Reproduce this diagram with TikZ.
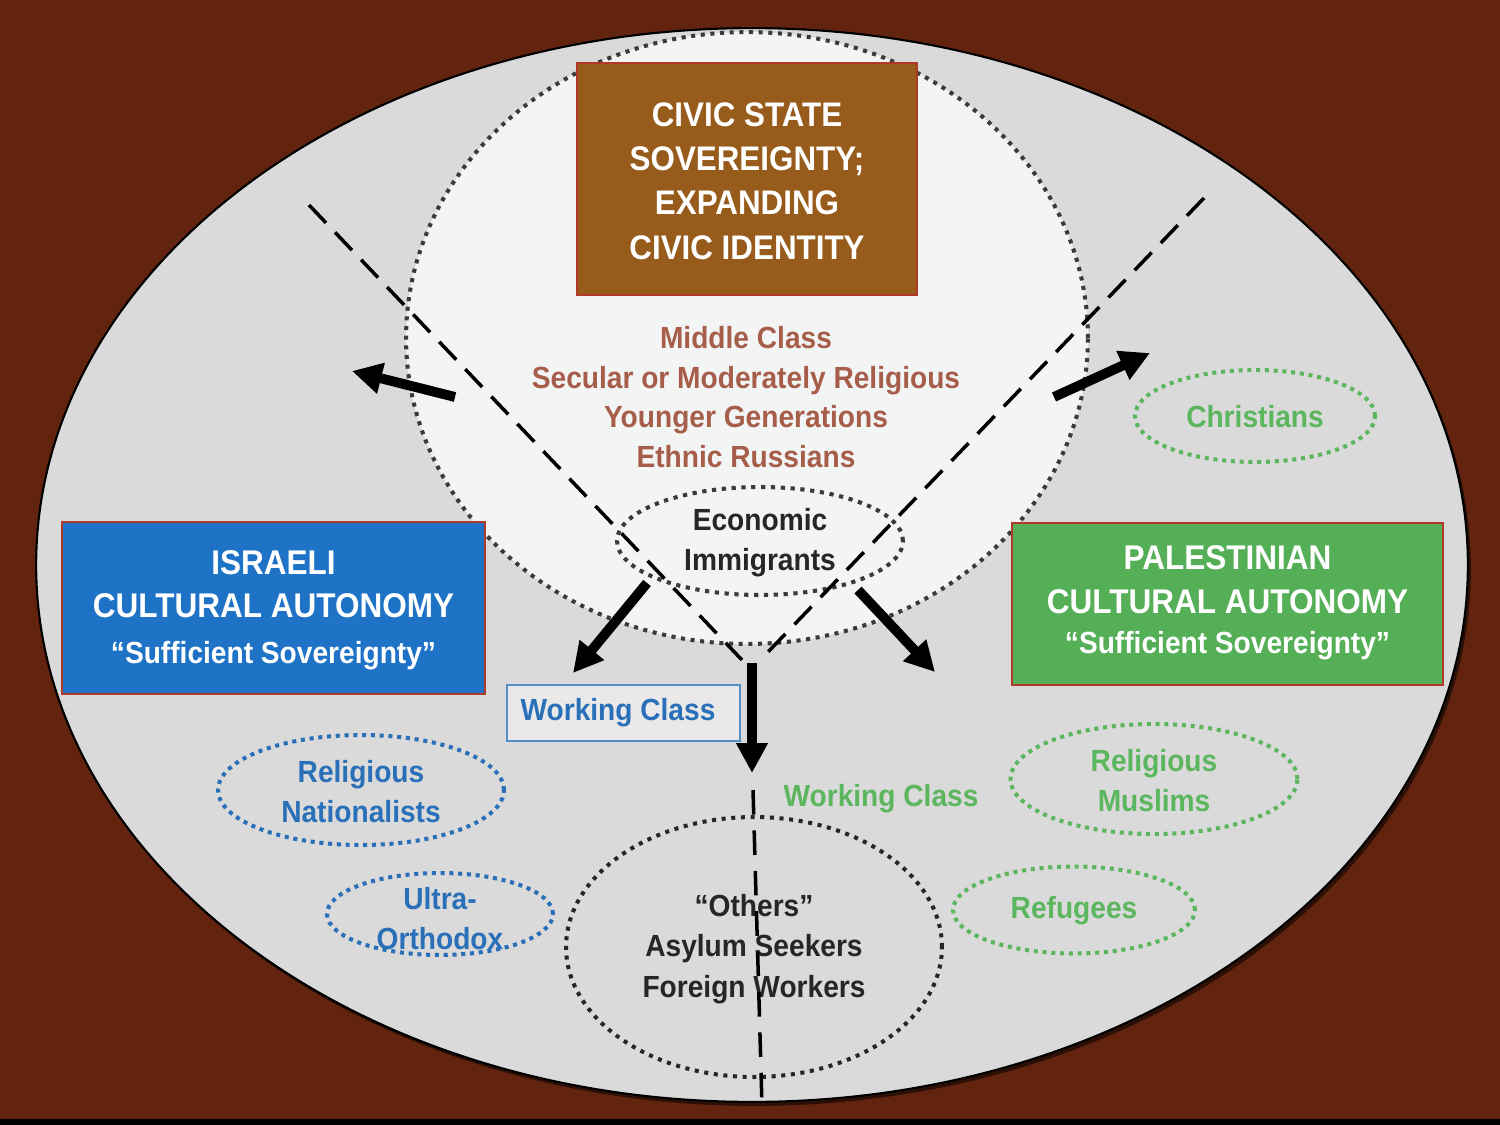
\documentclass[tikz,border=0pt]{standalone}
\usepackage{fontspec}
\setmainfont{Liberation Sans}[FakeStretch=0.92]
\usetikzlibrary{shapes.geometric,arrows.meta}
\definecolor{bgbrown}{HTML}{62240E}
\definecolor{outerfill}{HTML}{DADADA}
\definecolor{innerfill}{HTML}{F3F4F4}
\definecolor{civicfill}{HTML}{975B1B}
\definecolor{boxborder}{HTML}{B0392A}
\definecolor{isrfill}{HTML}{1E73C6}
\definecolor{palfill}{HTML}{55AF57}
\definecolor{isrtext}{HTML}{2A70B9}
\definecolor{paltext}{HTML}{5BB65E}
\definecolor{midtext}{HTML}{A65E4A}
\definecolor{dotgray}{HTML}{3A3A3A}
\tikzset{
  txt/.style={font=\bfseries\fontsize{17.4}{22.7}\selectfont, align=center, inner sep=0pt},
  ttl/.style={font=\bfseries\fontsize{19.5}{24.8}\selectfont, align=center, inner sep=0pt, text=white},
  titlebox/.style={rectangle, draw=boxborder, line width=1.6pt, inner sep=0pt},
  grp/.style={ellipse, line width=2.3pt, dash pattern=on 2.3pt off 2.7pt, inner sep=0pt},
  arr/.style={line width=5.6pt, -{Triangle[length=17pt,width=17pt]}},
  divide/.style={line width=2pt, dash pattern=on 14pt off 7.5pt},
}
\begin{document}
\begin{tikzpicture}[x=0.02cm,y=-0.02cm]
\useasboundingbox (0,0) rectangle (1500,1125);
% background
\fill[bgbrown] (0,0) rectangle (1500,1119);
\fill[black] (0,1119) rectangle (1500,1125);
% outer ellipse with shadow
\node[ellipse, fill=black, opacity=0.55, minimum width=28.64cm, minimum height=21.48cm, inner sep=0pt] (shadow) at (755,569) {};
\node[ellipse, draw=black, line width=1.2pt, fill=outerfill, minimum width=28.64cm, minimum height=21.48cm, inner sep=0pt] (outer) at (752,565) {};
% inner civic ellipse
\node[ellipse, fill=innerfill, draw=dotgray, line width=2.3pt, dash pattern=on 2.3pt off 3.2pt, minimum width=13.64cm, minimum height=12.24cm, inner sep=0pt] (inner) at (747,338) {};
% economic immigrants
\node[grp, draw=dotgray, dash pattern=on 2.4pt off 3.2pt, minimum width=5.72cm, minimum height=2.16cm] (econ) at (760,541) {};
\node[txt, text=black!85] (econtxt) at (760,543) {Economic\\Immigrants};
% dividing dashed lines
\coordinate (dL1) at (309,205);
\coordinate (dL2) at (742,660);
\coordinate (dR1) at (1204,198);
\coordinate (dR2) at (767,653);
\draw[divide] (dL1) -- (dL2);
\draw[divide] (dR1) -- (dR2);
% civic box
\node[titlebox, fill=civicfill, minimum width=6.8cm, minimum height=4.64cm] (civic) at (747,179) {};
\node[ttl, font=\bfseries\fontsize{19.4}{25.2}\selectfont] (civictxt) at (747,181) {CIVIC STATE\\SOVEREIGNTY;\\EXPANDING\\CIVIC IDENTITY};
% middle class text
\node[txt, text=midtext, font=\bfseries\fontsize{17.4}{22.5}\selectfont] (middle) at (746,397) {Middle Class\\Secular or Moderately Religious\\Younger Generations\\Ethnic Russians};
% israeli box
\node[titlebox, fill=isrfill, minimum width=8.46cm, minimum height=3.44cm] (isr) at (273.5,608) {};
\node[ttl] (isrtxt) at (273.5,610) {ISRAELI\\CULTURAL AUTONOMY\\[1pt]{\fontsize{17.4}{22}\selectfont “Sufficient Sovereignty”}};
% palestinian box
\node[titlebox, fill=palfill, minimum width=8.62cm, minimum height=3.24cm] (pal) at (1227.5,604) {};
\node[ttl] (paltxt) at (1227.5,603) {PALESTINIAN\\CULTURAL AUTONOMY\\[-2pt]{\fontsize{17.4}{22}\selectfont “Sufficient Sovereignty”}};
% working class (israeli)
\node[rectangle, draw=isrtext!80, line width=0.8pt, fill=outerfill!60!white, minimum width=4.66cm, minimum height=1.12cm, inner sep=0pt] (wcbox) at (623.5,713) {};
\node[txt, text=isrtext] (wcisr) at (618,713) {Working Class};
% working class (palestinian)
\node[txt, text=paltext] (wcpal) at (881,799) {Working Class};
% israeli groups
\node[grp, draw=isrtext, minimum width=5.72cm, minimum height=2.2cm] (rn) at (361,790) {};
\node[txt, text=isrtext] (rntxt) at (361,792) {Religious\\Nationalists};
\node[grp, draw=isrtext, minimum width=4.52cm, minimum height=1.64cm] (uo) at (440,914) {};
\node[txt, text=isrtext] (uotxt) at (440,919) {Ultra-\\Orthodox};
% palestinian groups
\node[grp, draw=paltext, minimum width=4.8cm, minimum height=1.84cm] (chr) at (1255,416) {};
\node[txt, text=paltext] (chrtxt) at (1255,417) {Christians};
\node[grp, draw=paltext, minimum width=5.74cm, minimum height=2.2cm] (rm) at (1154,779) {};
\node[txt, text=paltext] (rmtxt) at (1154,781) {Religious\\Muslims};
\node[grp, draw=paltext, minimum width=4.84cm, minimum height=1.74cm] (ref) at (1074,910) {};
\node[txt, text=paltext] (reftxt) at (1074,911) {Refugees};
% others
\node[grp, draw=black!85, dash pattern=on 2.3pt off 3.2pt, minimum width=7.52cm, minimum height=5.2cm] (others) at (754,947) {};
\node[txt, text=black!85, font=\bfseries\fontsize{17.4}{23}\selectfont] (otherstxt) at (754,949) {“Others”\\Asylum Seekers\\Foreign Workers};
% vertical dashed line
\coordinate (dV1) at (753,790);
\coordinate (dV2) at (762,1106);
\draw[line width=2pt, dash pattern=on 14pt off 9pt] (dV1) -- (dV2);
% arrows
\coordinate (aLt) at (455,397);
\coordinate (aLh) at (352,371);
\coordinate (aRt) at (1054,397);
\coordinate (aRh) at (1150,353);
\coordinate (aDLt) at (647,583);
\coordinate (aDLh) at (573,673);
\coordinate (aDRt) at (858,590);
\coordinate (aDRh) at (935,672);
\coordinate (aDt) at (752,663);
\coordinate (aDh) at (752,773);
\draw[arr] (aLt) -- (aLh);
\draw[arr] (aRt) -- (aRh);
\draw[arr] (aDLt) -- (aDLh);
\draw[arr] (aDRt) -- (aDRh);
\draw[arr] (aDt) -- (aDh);
\end{tikzpicture}
\end{document}
